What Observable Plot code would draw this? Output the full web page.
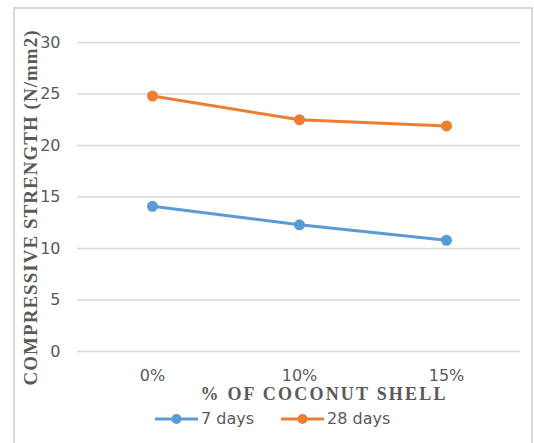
<!DOCTYPE html>
<html>
<head>
<meta charset="utf-8">
<script src="https://cdn.jsdelivr.net/npm/d3@7"></script>
<script src="https://cdn.jsdelivr.net/npm/@observablehq/plot@0.6"></script>
<style>
  html, body { margin: 0; padding: 0; background: #fff; }
  #wrap { position: relative; width: 534px; height: 443px; overflow: hidden; }
  #frame { position: absolute; left: 13px; top: 7px; width: 520px; height: 460px; border: 2px solid #d9d9d9; box-sizing: border-box; }
  #chart { position: absolute; left: 0; top: 0; }
  #legend { position: absolute; left: 155px; top: 409px; display: flex; align-items: center; font-family: "DejaVu Sans", sans-serif; font-size: 16px; color: #595959; }
  #legend .item { display: flex; align-items: center; margin-right: 27px; }
  #legend svg { margin-right: 3px; }
</style>
</head>
<body>
<div id="wrap">
  <div id="frame"></div>
  <div id="chart"></div>
  <div id="legend"></div>
</div>
<script>
const categories = ["0%", "10%", "15%"];
const series = ["7 days", "28 days"];
const days7 = [14.1, 12.3, 10.8];
const days28 = [24.8, 22.5, 21.9];
const yTicks = [0, 5, 10, 15, 20, 25, 30];
const colors = ["#5B9BD5", "#ED7D31"];
const xTitle = "% OF COCONUT SHELL";
const yTitle = "COMPRESSIVE STRENGTH (N/mm2)";

const data = [];
categories.forEach((c, i) => {
  data.push({cat: c, value: days7[i], series: series[0]});
  data.push({cat: c, value: days28[i], series: series[1]});
});

const serif = "'Liberation Serif', 'Times New Roman', serif";
const chart = Plot.plot({
  width: 534,
  height: 405,
  marginLeft: 77,
  marginRight: 14,
  marginTop: 42,
  marginBottom: 54,
  style: {fontSize: "16px", fontFamily: "'DejaVu Sans', sans-serif", color: "#595959", background: "transparent", overflow: "visible"},
  x: {type: "point", domain: categories, padding: 0.5, tickSize: 0, tickPadding: 18, label: null},
  y: {domain: [0, 30], ticks: yTicks, tickSize: 0, tickPadding: 17, label: null},
  color: {domain: series, range: colors},
  marks: [
    Plot.ruleY(yTicks, {stroke: "#d9d9d9", strokeWidth: 1.3}),
    Plot.line(data, {x: "cat", y: "value", z: "series", stroke: "series", strokeWidth: 3}),
    Plot.dot(data, {x: "cat", y: "value", fill: "series", r: 5.5}),
    Plot.text([yTitle], {text: d => d, frameAnchor: "left", textAnchor: "middle", dx: -47, dy: 11, rotate: -90, fontFamily: serif, fontWeight: "bold", fontSize: 19, fill: "#595959"}),
    Plot.text([xTitle], {text: d => d, frameAnchor: "bottom", textAnchor: "middle", dx: 24, dy: 48, fontFamily: serif, fontWeight: "bold", fontSize: 18, fill: "#595959"})
  ]
});
// stretch the serif titles horizontally to the reference's widths
const titleTexts = Array.from(chart.querySelectorAll("text")).filter(t => t.textContent === yTitle || t.textContent === xTitle);
titleTexts.forEach(t => {
  t.setAttribute("lengthAdjust", "spacing");
  t.setAttribute("textLength", t.textContent === yTitle ? 355 : 245);
});
document.getElementById("chart").appendChild(chart);

const legend = document.getElementById("legend");
series.forEach((s, i) => {
  const item = document.createElement("div");
  item.className = "item";
  item.innerHTML = `<svg width="43" height="14"><line x1="0" y1="7" x2="43" y2="7" stroke="${colors[i]}" stroke-width="3"/><circle cx="21.5" cy="7" r="5" fill="${colors[i]}"/></svg><span>${s}</span>`;
  legend.appendChild(item);
});
</script>
</body>
</html>
